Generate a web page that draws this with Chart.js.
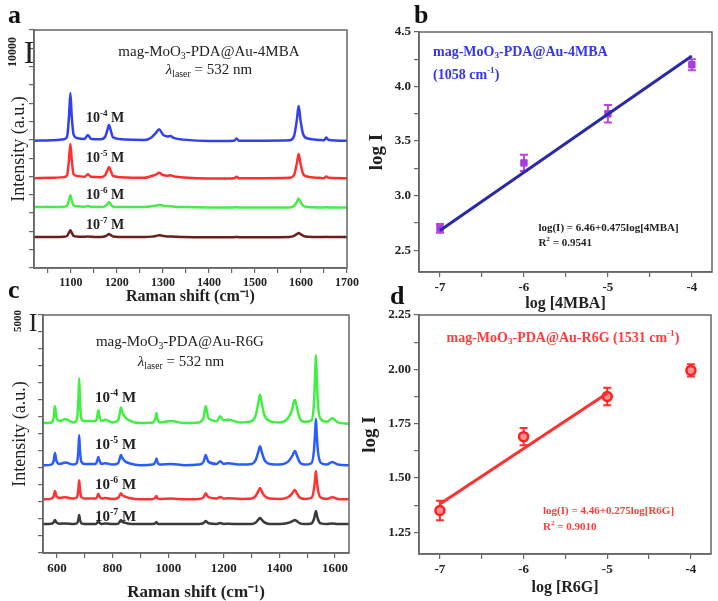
<!DOCTYPE html>
<html>
<head>
<meta charset="utf-8">
<script src="https://cdn.jsdelivr.net/npm/chart.js@4.4.1/dist/chart.umd.min.js"></script>
<style>
  body { margin: 0; background: #fff; width: 718px; height: 601px; overflow: hidden; position: relative; }
  canvas { position: absolute; }
  .tag { position: absolute; font: bold 26px 'Liberation Serif', serif; line-height: 1; color: #111; }
</style>
</head>
<body>
<canvas id="chartA" width="362" height="310" style="left:0;top:0"></canvas>
<canvas id="chartB" width="356" height="316" style="left:362px;top:0"></canvas>
<canvas id="chartC" width="362" height="310" style="left:0;top:293px"></canvas>
<canvas id="chartD" width="363" height="301" style="left:355px;top:300px"></canvas>
<div class="tag" style="left:8px;top:2px">a</div>
<div class="tag" style="left:414px;top:2px">b</div>
<div class="tag" style="left:8px;top:277px">c</div>
<div class="tag" style="left:390px;top:283px">d</div>
<script>
// ---- panel a : 4MBA spectra (Raman shift / intensity) ----
const ramanA = [1020, 1060, 1085, 1092, 1096, 1099, 1102, 1106, 1115, 1130, 1137, 1144, 1165, 1175, 1180, 1183, 1186, 1192,
    1220, 1260, 1275, 1285, 1292, 1300, 1310, 1316, 1325, 1345, 1400, 1455, 1460, 1465, 1520, 1575, 1585, 1591, 1595, 1599,
    1605, 1615, 1640, 1650, 1655, 1660, 1700];
const mba4 = [29300, 29400, 29700, 30500, 36000, 42500, 36000, 31000, 30000, 29800, 30900, 29800, 29700, 30500, 32500, 33700, 32500, 30200,
    29600, 29500, 30200, 31500, 32500, 31000, 30500, 30600, 30000, 29600, 29200, 29300, 29900, 29300, 29300, 29400, 30600, 35000, 38900, 35000,
    31000, 29900, 29500, 29400, 30200, 29500, 29300];
const mba5 = [18900, 19000, 19200, 19800, 24000, 28400, 24000, 20000, 19500, 19300, 20000, 19300, 19200, 19800, 21200, 22000, 21200, 19500,
    19100, 19000, 19500, 19900, 20400, 19800, 19600, 19700, 19400, 19100, 18800, 18900, 19300, 18900, 18900, 19000, 19800, 23000, 25600, 23000,
    20000, 19300, 19000, 18900, 19400, 19000, 18900];
const mba6 = [10900, 10900, 11000, 11300, 12800, 14200, 12800, 11300, 11100, 11000, 11200, 11000, 10900, 11200, 11800, 12300, 11800, 11000,
    10900, 10900, 11100, 11300, 11500, 11300, 11100, 11100, 11000, 10900, 10800, 10800, 10900, 10800, 10800, 10800, 11200, 12300, 13300, 12300,
    11200, 10900, 10800, 10800, 10900, 10800, 10800];
const mba7 = [2600, 2600, 2650, 2900, 3800, 4500, 3800, 2900, 2700, 2650, 2750, 2650, 2600, 2800, 3200, 3400, 3200, 2750,
    2600, 2600, 2700, 2900, 3100, 2900, 2750, 2750, 2700, 2600, 2550, 2550, 2600, 2550, 2550, 2600, 2900, 3400, 3700, 3400,
    2900, 2650, 2600, 2600, 2650, 2600, 2600];

// ---- panel c : R6G spectra ----
const ramanC = [550, 580, 588, 593, 598, 610, 630, 660, 672, 677, 680, 683, 688, 700, 740, 746, 749, 752, 760, 775, 800, 820, 826, 830,
    835, 845, 860, 900, 945, 955, 958, 961, 970, 1010, 1060, 1110, 1127, 1132, 1135, 1138, 1145, 1175, 1187, 1200, 1215, 1260, 1300,
    1315, 1324, 1330, 1336, 1346, 1365, 1400, 1430, 1445, 1452, 1456, 1462, 1472, 1490, 1515, 1524, 1528, 1531, 1534, 1538, 1548,
    1570, 1590, 1610, 1650];
const r6g4 = [16600, 16700, 17400, 19100, 17500, 16900, 17200, 16700, 17200, 19800, 23200, 19800, 17200, 16900, 16900, 17800, 18500, 17800, 16900, 17100, 16700, 17000, 18000, 18900,
    18200, 17500, 17000, 16600, 16700, 17500, 18100, 17300, 16700, 16900, 16600, 16700, 17400, 18600, 19100, 18600, 17300, 16900, 17600, 17000, 17100, 16700, 16900,
    17800, 19600, 20800, 19600, 17800, 16900, 16700, 17300, 18500, 19800, 20000, 19000, 17400, 16800, 17000, 19500, 23500, 26600, 23500, 19500, 17200,
    16800, 17300, 16700, 16500];
const r6g5 = [10400, 10500, 11000, 12200, 11100, 10600, 10800, 10500, 10800, 12500, 14800, 12500, 10900, 10600, 10600, 11200, 11600, 11200, 10600, 10700, 10500, 10700, 11400, 11900,
    11500, 11000, 10700, 10400, 10500, 11000, 11400, 10900, 10500, 10600, 10400, 10500, 10900, 11600, 11900, 11600, 10900, 10600, 11000, 10600, 10700, 10500, 10600,
    11200, 12400, 13200, 12400, 11200, 10600, 10500, 10900, 11700, 12300, 12500, 11900, 10900, 10500, 10700, 12600, 15000, 17200, 15000, 12600, 10800,
    10500, 10900, 10500, 10400];
const r6g6 = [5400, 5500, 5800, 6600, 5900, 5600, 5700, 5500, 5700, 6800, 8200, 6800, 5700, 5500, 5500, 5900, 6200, 5900, 5500, 5600, 5450, 5600, 6000, 6300,
    6000, 5800, 5600, 5400, 5450, 5700, 5900, 5600, 5450, 5500, 5400, 5450, 5700, 6100, 6300, 6100, 5700, 5500, 5750, 5500, 5550, 5450, 5500,
    5900, 6600, 7050, 6600, 5900, 5500, 5450, 5700, 6200, 6650, 6750, 6300, 5700, 5450, 5600, 6900, 8300, 9550, 8300, 6900, 5650,
    5450, 5700, 5450, 5400];
const r6g7 = [1750, 1800, 2000, 2350, 2000, 1800, 1850, 1780, 1850, 2400, 3080, 2400, 1850, 1780, 1780, 2000, 2200, 2000, 1780, 1820, 1760, 1800, 2100, 2350,
    2100, 1950, 1800, 1750, 1760, 1900, 2060, 1850, 1760, 1780, 1750, 1760, 1900, 2100, 2200, 2100, 1880, 1780, 1900, 1780, 1800, 1760, 1780,
    2000, 2400, 2640, 2400, 2000, 1780, 1760, 1900, 2150, 2300, 2350, 2200, 1900, 1760, 1850, 2500, 3200, 3670, 3200, 2500, 1850,
    1760, 1850, 1760, 1750];
const ticksC = [600, 700, 800, 900, 1000, 1100, 1200, 1300, 1400, 1500, 1600];

// ---- panel b / d : calibration points ----
const logConc = [-7, -6, -5, -4];
const logI_mba = [2.70, 3.30, 3.75, 4.20];
const err_mba = [0.04, 0.075, 0.08, 0.05];
const fitX_mba = [-7, -4];
const fitY_mba = [2.68, 4.28];
const logI_r6g = [1.35, 1.69, 1.875, 1.995];
const err_r6g = [0.045, 0.04, 0.04, 0.028];
const fitX_r6g = [-7, -5];
const fitY_r6g = [1.38, 1.89];

const SERIF = "'Liberation Serif', serif";
Chart.defaults.font.family = SERIF;
Chart.defaults.color = '#222';
Chart.defaults.animation = false;

const pts = (xs, ys) => xs.map((x, i) => ({ x: x, y: ys[i] }));

// text drawn on the plots (data coords unless px:true)
const notes = {
    chartA: [
        { x: 1400, y: 53900, parts: [['mag-MoO'], ['3', 'sub'], ['-PDA@Au-4MBA']], size: 15, align: 'center' },
        { x: 1400, y: 48900, parts: [['λ', 0, true], ['laser', 'sub'], [' = 532 nm']], size: 15, align: 'center' },
        { x: 1133, y: 35600, parts: [['10'], ['-4', 'sup'], [' M']], size: 14, weight: 'bold' },
        { x: 1133, y: 24500, parts: [['10'], ['-5', 'sup'], [' M']], size: 14, weight: 'bold' },
        { x: 1133, y: 14240, parts: [['10'], ['-6', 'sup'], [' M']], size: 14, weight: 'bold' },
        { x: 1133, y: 5900, parts: [['10'], ['-7', 'sup'], [' M']], size: 14, weight: 'bold' },
        { px: true, x: 13, y: 52, rot: -Math.PI / 2, parts: [['10000']], size: 12, weight: 'bold', align: 'center' },
        { px: true, x: 29, y: 55, parts: [['I']], size: 32, align: 'center' }
    ],
    chartC: [
        { x: 1042, y: 28530, parts: [['mag-MoO'], ['3', 'sub'], ['-PDA@Au-R6G']], size: 15, align: 'center' },
        { x: 1046, y: 25590, parts: [['λ', 0, true], ['laser', 'sub'], [' = 532 nm']], size: 15, align: 'center' },
        { x: 737, y: 20290, parts: [['10'], ['-4', 'sup'], [' M']], size: 15, weight: 'bold' },
        { x: 737, y: 13380, parts: [['10'], ['-5', 'sup'], [' M']], size: 15, weight: 'bold' },
        { x: 737, y: 7500, parts: [['10'], ['-6', 'sup'], [' M']], size: 15, weight: 'bold' },
        { x: 737, y: 2790, parts: [['10'], ['-7', 'sup'], [' M']], size: 15, weight: 'bold' },
        { px: true, x: 18, y: 28, rot: -Math.PI / 2, parts: [['5000']], size: 11, weight: 'bold', align: 'center' },
        { px: true, x: 33, y: 31, parts: [['I']], size: 26, align: 'center' }
    ],
    chartB: [
        { x: -7.083, y: 4.317, parts: [['mag-MoO'], ['3', 'sub'], ['-PDA@Au-4MBA']], size: 14, weight: 'bold', color: '#3535ee' },
        { x: -7.083, y: 4.106, parts: [['(1058 cm'], ['-1', 'sup'], [')']], size: 14, weight: 'bold', color: '#3535ee' },
        { x: -5.828, y: 2.704, parts: [['log(I) = 6.46+0.475log[4MBA]']], size: 11, weight: 'bold' },
        { x: -5.828, y: 2.566, parts: [['R'], ['2', 'sup'], [' = 0.9541']], size: 11, weight: 'bold' }
    ],
    chartD: [
        { x: -5.53, y: 2.144, parts: [['mag-MoO'], ['3', 'sub'], ['-PDA@Au-R6G (1531 cm'], ['-1', 'sup'], [')']], size: 14, weight: 'bold', color: '#ff3b3b', align: 'center' },
        { x: -5.768, y: 1.348, parts: [['log(I) = 4.46+0.275log[R6G]']], size: 11, weight: 'bold', color: '#ff3b3b' },
        { x: -5.768, y: 1.274, parts: [['R'], ['2', 'sup'], [' = 0.9010']], size: 11, weight: 'bold', color: '#ff3b3b' }
    ]
};

function drawRich(ctx, parts, size, weight, color, align) {
    const fontFor = p => (p[2] ? 'italic ' : '') + weight + ' ' + (p[1] ? size * 0.65 : size) + 'px ' + SERIF;
    let w = 0;
    parts.forEach(p => { ctx.font = fontFor(p); w += ctx.measureText(p[0]).width; });
    let x = align === 'center' ? -w / 2 : (align === 'right' ? -w : 0);
    ctx.fillStyle = color;
    ctx.textBaseline = 'middle';
    parts.forEach(p => {
        ctx.font = fontFor(p);
        const dy = p[1] === 'sup' ? -size * 0.33 : (p[1] === 'sub' ? size * 0.28 : 0);
        ctx.fillText(p[0], x, dy);
        x += ctx.measureText(p[0]).width;
    });
}

const notesPlugin = {
    id: 'notes',
    afterDraw(chart) {
        const ctx = chart.ctx;
        (notes[chart.canvas.id] || []).forEach(n => {
            const x = n.px ? n.x : chart.scales.x.getPixelForValue(n.x);
            const y = n.px ? n.y : chart.scales.y.getPixelForValue(n.y);
            ctx.save();
            ctx.translate(x, y);
            if (n.rot) ctx.rotate(n.rot);
            drawRich(ctx, n.parts, n.size, n.weight || 'normal', n.color || '#222', n.align || 'left');
            ctx.restore();
        });
    }
};

// box around the plot area
const framePlugin = {
    id: 'frame',
    afterDraw(chart) {
        const a = chart.chartArea, ctx = chart.ctx;
        ctx.save();
        ctx.strokeStyle = '#666';
        ctx.lineWidth = 1.5;
        ctx.strokeRect(a.left, a.top, a.right - a.left, a.bottom - a.top);
        ctx.restore();
    }
};

// vertical error bars from dataset.errors
const errorBarPlugin = {
    id: 'errorBars',
    beforeDatasetsDraw(chart) {
        const ctx = chart.ctx, xs = chart.scales.x, ys = chart.scales.y;
        chart.data.datasets.forEach(ds => {
            if (!ds.errors) return;
            ctx.save();
            ctx.strokeStyle = ds.errorColor;
            ctx.lineWidth = 2;
            ds.data.forEach((p, i) => {
                const px = xs.getPixelForValue(p.x);
                const y1 = ys.getPixelForValue(p.y - ds.errors[i]);
                const y2 = ys.getPixelForValue(p.y + ds.errors[i]);
                ctx.beginPath();
                ctx.moveTo(px, y1); ctx.lineTo(px, y2);
                ctx.moveTo(px - 4, y1); ctx.lineTo(px + 4, y1);
                ctx.moveTo(px - 4, y2); ctx.lineTo(px + 4, y2);
                ctx.stroke();
            });
            ctx.restore();
        });
    }
};

Chart.register(notesPlugin, framePlugin, errorBarPlugin);

// note: min/max are kept off exact multiples of the step (or the ticks are given),
// otherwise Chart.js starts the ticks at min instead of at the round values
function axisX(min, max, step, labelEvery, title, tickSize, titleSize, height, titlePad, tickVals) {
    const ax = {
        type: 'linear', min: min, max: max,
        ticks: {
            stepSize: step, includeBounds: false, autoSkip: false, maxRotation: 0, maxTicksLimit: 100,
            font: { size: tickSize, weight: 'bold' }, color: '#222', padding: 3,
            callback: v => Math.abs(v / labelEvery - Math.round(v / labelEvery)) < 1e-6 ? String(v) : ''
        },
        grid: { drawOnChartArea: false, tickLength: 5, color: '#666', lineWidth: 1.2 },
        border: { color: '#666', width: 1.5 },
        title: { display: true, text: title, font: { size: titleSize, weight: 'bold' }, color: '#222', padding: { top: 0, bottom: titlePad } },
        afterFit: s => { s.height = height; }
    };
    if (tickVals) ax.afterBuildTicks = s => { s.ticks = tickVals.map(v => ({ value: v })); };
    return ax;
}

function axisY(min, max, step, labelEvery, digits, title, titleFont, width, titlePad) {
    return {
        type: 'linear', min: min, max: max,
        ticks: {
            stepSize: step, includeBounds: false, autoSkip: false, maxTicksLimit: 100,
            font: { size: 13, weight: 'bold' }, color: '#222', padding: 3,
            callback: v => (labelEvery && Math.abs(v / labelEvery - Math.round(v / labelEvery)) < 1e-6) ? v.toFixed(digits) : ''
        },
        grid: { drawOnChartArea: false, tickLength: 5, color: '#666', lineWidth: 1.2 },
        border: { color: '#666', width: 1.5 },
        title: { display: true, text: title, font: titleFont, color: '#222', padding: { top: titlePad, bottom: 0 } },
        afterFit: s => { s.width = width; }
    };
}

function spectrum(xs, ys, color) {
    return {
        data: pts(xs, ys), borderColor: color, borderWidth: 2.5, pointRadius: 0,
        cubicInterpolationMode: 'monotone', fill: false
    };
}

const common = {
    responsive: false,
    devicePixelRatio: 1,
    plugins: { legend: { display: false }, tooltip: { enabled: false } }
};

// a
new Chart(document.getElementById('chartA'), {
    type: 'line',
    data: {
        datasets: [
            spectrum(ramanA, mba7, '#6a1f1f'),
            spectrum(ramanA, mba6, '#44ee44'),
            spectrum(ramanA, mba5, '#ff3030'),
            spectrum(ramanA, mba4, '#3340f0')
        ]
    },
    options: Object.assign({}, common, {
        layout: { padding: { top: 30, right: 2, left: 0, bottom: 0 } },
        scales: {
            x: axisX(1020, 1700, 50, 100, 'Raman shift (cm⁻¹)', 12, 16, 42, 4),
            y: axisY(-6000, 60000, 5000, 0, 0, 'Intensity (a.u.)', { size: 18 }, 34, 8)
        }
    })
});

// b
new Chart(document.getElementById('chartB'), {
    type: 'scatter',
    data: {
        datasets: [
            { data: pts(fitX_mba, fitY_mba), showLine: true, borderColor: '#2a2aa8', borderWidth: 3, pointRadius: 0 },
            { data: pts(logConc, logI_mba), errors: err_mba, errorColor: '#c040e0', pointStyle: 'rect', pointRadius: 4.5,
              backgroundColor: '#a63ee0', borderColor: '#a63ee0' }
        ]
    },
    options: Object.assign({}, common, {
        layout: { padding: { top: 32, right: 6, left: 0, bottom: 0 } },
        scales: {
            x: axisX(-7.25, -3.76, 0.5, 1, 'log [4MBA]', 13, 16, 44, 3),
            y: axisY(2.3, 4.5, 0.25, 0.5, 1, 'log I', { size: 19, weight: 'bold' }, 57, 4)
        }
    })
});

// c
new Chart(document.getElementById('chartC'), {
    type: 'line',
    data: {
        datasets: [
            spectrum(ramanC, r6g7, '#3a3a3a'),
            spectrum(ramanC, r6g6, '#ff3333'),
            spectrum(ramanC, r6g5, '#2a5cff'),
            spectrum(ramanC, r6g4, '#40f040')
        ]
    },
    options: Object.assign({}, common, {
        layout: { padding: { top: 22, right: 13, left: 0, bottom: 0 } },
        scales: {
            x: axisX(550, 1650, 100, 200, 'Raman shift (cm⁻¹)', 13, 17, 50, 0, ticksC),
            y: axisY(-2500, 32500, 2500, 0, 0, 'Intensity (a.u.)', { size: 18 }, 43, 9)
        }
    })
});

// d
new Chart(document.getElementById('chartD'), {
    type: 'scatter',
    data: {
        datasets: [
            { data: pts(fitX_r6g, fitY_r6g), showLine: true, borderColor: '#ff3030', borderWidth: 3, pointRadius: 0 },
            { data: pts(logConc, logI_r6g), errors: err_r6g, errorColor: '#ff3030', pointStyle: 'circle', pointRadius: 4.5,
              backgroundColor: '#ff9090', borderColor: '#ff2020', borderWidth: 2.5 }
        ]
    },
    options: Object.assign({}, common, {
        layout: { padding: { top: 15, right: 6, left: 0, bottom: 0 } },
        scales: {
            x: axisX(-7.25, -3.76, 0.5, 1, 'log [R6G]', 13, 16, 47, 4),
            y: axisY(1.15, 2.25, 0.125, 0.25, 2, 'log I', { size: 19, weight: 'bold' }, 64, 4)
        }
    })
});
</script>
</body>
</html>
